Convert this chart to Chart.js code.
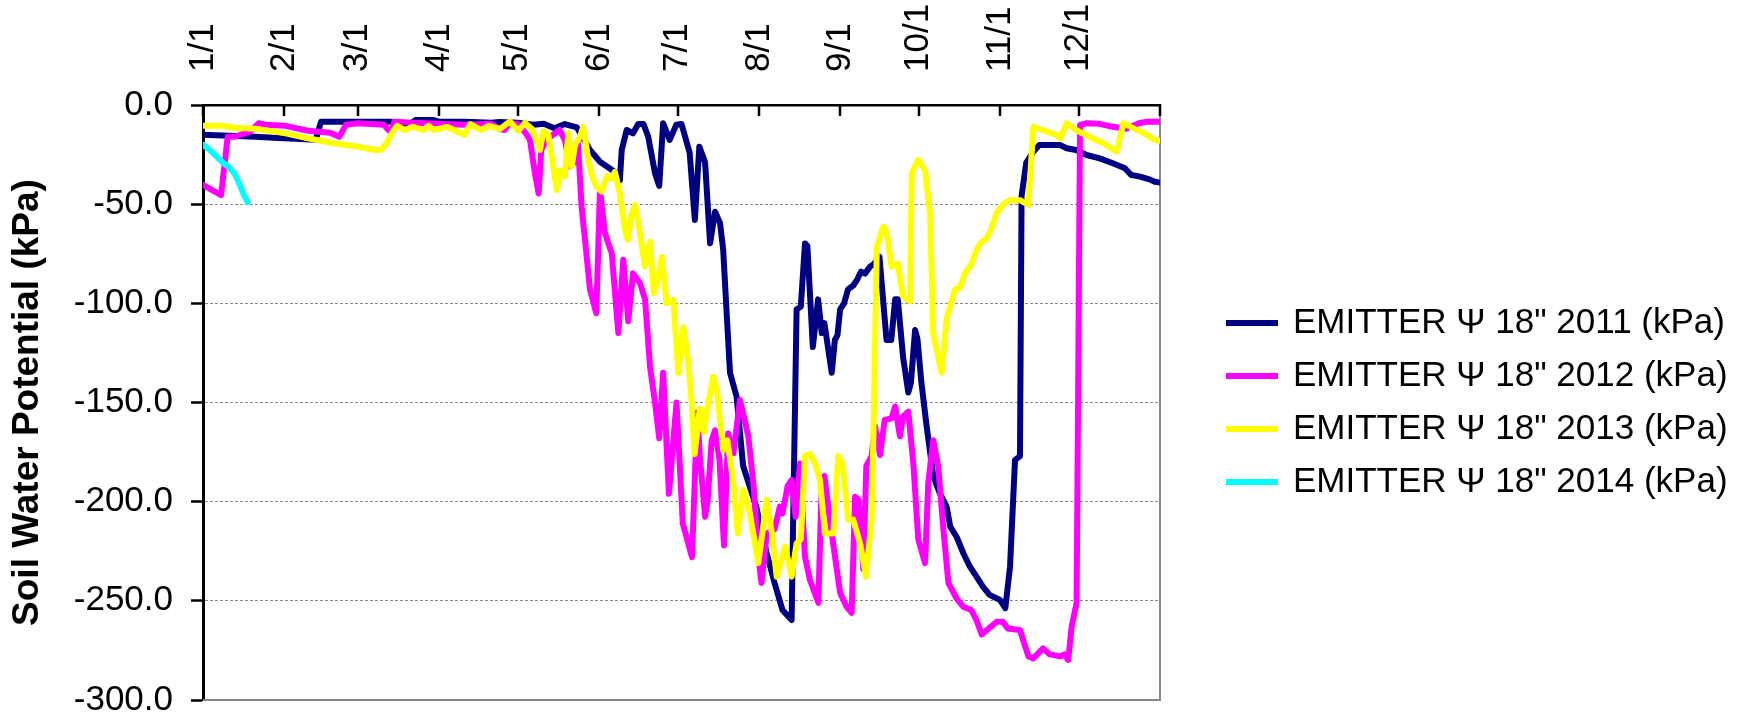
<!DOCTYPE html>
<html>
<head>
<meta charset="utf-8">
<script src="https://cdn.jsdelivr.net/npm/chart.js@4.4.1/dist/chart.umd.min.js"></script>
<style>
html,body{margin:0;padding:0;background:#fff;}
#wrap{width:1739px;height:715px;}
</style>
</head>
<body>
<div id="wrap"><canvas id="c" width="1739" height="715"></canvas></div>
<script>
// ---- axis ticks ----
const monthStartDays = [0,31,59,90,120,151,181,212,243,273,304,334];
const monthLabels = ['1/1','2/1','3/1','4/1','5/1','6/1','7/1','8/1','9/1','10/1','11/1','12/1'];
const yTickValues = [0,-50,-100,-150,-200,-250,-300];
const yTickLabels = ['0.0','-50.0','-100.0','-150.0','-200.0','-250.0','-300.0'];

// ---- series (day of year, kPa) ----
const days2011 = [0,10,20,27,35,43,45,60,72,74,79,81,88,90,100,110,113,120,126,130,134,138,142.6,147.6,151.4,157.8,159,159.7,161.6,164,166,168,169.8,172.4,174,175.5,178,180.5,182.5,185.6,187.6,189.3,191.5,193.4,195.3,197.2,198.4,199.8,201,203.5,206,211,215,218,221,224.5,225,226.4,228,229.6,230.5,232.6,234.6,236,237,239.8,241,242,243,244.5,246,248,249.5,251,252.5,254.4,256,258,260.7,262.5,264,265,267,269,270,271.6,272.5,274,276,278.5,281,283.6,285,287.4,290,292.5,295,297.5,300,304,306,307.8,309.7,311.6,312.2,314,316.7,319,327,329.4,333,337,342,347,351.6,354,357,361,363,364.5];
const psi2011 = [-15,-15.5,-16,-16.5,-17,-17.5,-8.5,-8.5,-8.5,-9.5,-9.5,-7.6,-7.6,-8.4,-8.4,-9,-8.6,-9,-10,-9.5,-11.7,-9.6,-11.3,-22.7,-28.6,-34.4,-38,-22.7,-12.6,-14.3,-9.6,-9.6,-16,-34.4,-40.8,-9.2,-17.6,-10,-9.6,-24,-58,-21,-29,-69.7,-53.8,-59.6,-73,-106.7,-135,-147,-182,-202.5,-226,-241,-254.6,-259.7,-216,-103,-101.7,-69.8,-71,-122,-98,-115,-110,-135,-118.5,-116,-103,-100,-93,-91,-88,-84,-85,-81.5,-80,-76.5,-118.5,-118.5,-98,-98,-127,-145,-140,-113.5,-118,-140,-162,-187,-195.7,-202.5,-212.6,-217.7,-226,-232.8,-237.8,-243,-247,-249.6,-253.7,-232.8,-179,-177,-46,-29,-23.5,-20.2,-20.2,-21.8,-22.7,-25.2,-26.9,-29.4,-31.9,-35.3,-36,-37.5,-38.7,-39];

const days2012 = [0,3,6.9,9.4,12,18,21.3,24,31.5,40,48.5,52,54.5,59,69,70.7,72,73,80,90,100,110,113,115,117,120,123,124.7,126.6,128,129,131,133.5,136,138,140,141.5,143,144.4,145.7,147.6,150,151.4,153.3,155.9,158.4,160.3,162.2,164,166.7,168.6,170.5,172.4,174,175.5,177.7,180.6,183,186.5,188.5,189.5,191.5,192.5,194,195.3,197,198.7,200.3,202.3,204.8,208,210,211.8,213,215,218,220,221,223,224.5,226,227.7,229.6,231.5,234.7,236,237,239.8,243,245.5,247.4,248.7,250,251.8,253,255,256.3,258.2,260,262.6,264,265.8,267,269,271,272.8,275.4,276.6,278.5,280.4,282.3,284.3,287.4,290,293,295,297,299,302.7,305,307,311.6,314.8,316.7,320.4,323,327,328.5,330,331.3,333.2,334.5,337,342,347,352,357,360,364.5];
const psi2012 = [-40.3,-42.5,-45.4,-16,-16,-13.4,-9.2,-10,-10.5,-13,-14,-16,-10,-9.2,-10,-12.6,-13,-8.4,-9,-9.5,-10,-9.5,-12,-12.6,-9,-9.6,-14,-17.6,-34.4,-44.6,-22.7,-17.6,-15,-12.6,-17.6,-31,-29,-19.3,-51.3,-68,-93,-105,-42.9,-64.7,-74.8,-115,-78,-109,-84.9,-89.9,-98,-132,-150,-168,-135,-196,-150,-211,-228,-155,-177,-207.6,-199,-169,-164,-179,-222,-165.6,-175.6,-148.7,-167,-192,-227.7,-241,-216,-214,-202.5,-206,-192,-189,-207.6,-180.7,-227.7,-239.5,-251,-189,-187,-216,-246,-253,-256,-197.5,-199,-234,-182,-177,-162,-176.5,-158.8,-158,-152,-167,-157,-154.6,-182,-219,-231,-190.7,-169,-182,-212.6,-241,-248.7,-253,-254.6,-259.7,-267,-264.7,-260.5,-260.5,-264,-264.7,-278,-279,-274,-277,-278,-277,-279.8,-263,-251,-10,-9.2,-9.5,-11,-12,-9.2,-8.4,-8.4];

const days2013 = [0,8,12,20,31.5,40,50,59,65.6,68,70,72.4,74,77,80,84,86,88,93,99.7,102,106,109,113.3,117,120.3,122.8,125.4,128.5,129.8,131.7,133.6,135,136,138,139.3,140.6,141.9,143.8,145,147,148.2,150,152,154,155.9,157.1,159,161,162,163.5,164.8,166.7,168.6,170.5,172,173.7,175,176.8,179.4,181.3,183.2,185,186.4,187.5,189.5,191,192.5,194.6,196,198.4,200,202.3,204,206,208.6,211.8,215,217,218.8,222,224.5,226.4,228,229.6,231.5,233.5,235.3,237.2,240.4,242.3,244,246,248,250.6,252.9,253.8,255,255.6,257,259.5,260.8,262.6,265,267,269.7,270.3,272.8,275.4,277.3,278.5,281.7,283.6,286.8,288.7,290.6,293,295,297,298.8,300.8,302.7,305,307.8,311.6,314.8,316.7,320,325.5,327,329.4,333,338,343.4,348.5,351,355,359,363,364.5];
const psi2013 = [-10.5,-10.5,-11.5,-12,-14.3,-16.8,-19.3,-21,-22.7,-22.5,-19.3,-13.4,-10.5,-12.6,-11,-12.6,-10.5,-12.6,-11,-15,-9.6,-12.6,-10.5,-12,-8.4,-13,-9,-12,-22.7,-13.4,-15,-31,-42.9,-33,-36,-14.3,-31,-20,-16,-11,-27.7,-35,-41,-43.7,-36,-37,-33.7,-44.6,-63,-68,-54.6,-50.4,-64.7,-81.5,-69,-95,-86.6,-76.5,-100,-98.3,-135,-112,-128.6,-150,-176,-153,-165,-152,-137,-143.5,-174,-169,-190.7,-216,-194,-206,-231,-199,-216,-237.8,-222.7,-237.8,-221,-219,-177,-176,-181,-189,-216,-216,-177,-181,-209,-209,-221,-237.8,-225,-209,-174,-71.4,-61.4,-64,-81.5,-80,-96.6,-99,-34.4,-27.7,-32.8,-54.6,-115,-135,-108,-93,-92,-84.9,-80.6,-73,-69,-67.6,-62,-54.6,-50.4,-47.9,-48,-50.4,-11,-12.6,-15,-17,-9.2,-12.6,-16,-19.3,-23.5,-9.2,-11.8,-14.3,-17.6,-18];

const days2014 = [0,2,4,6,8,10,12,14,15.5,17];
const psi2014 = [-20,-22,-24.4,-27,-29.5,-31.5,-34.5,-40,-45,-49];

const seriesNames = ['EMITTER \u03A8 18" 2011 (kPa)','EMITTER \u03A8 18" 2012 (kPa)','EMITTER \u03A8 18" 2013 (kPa)','EMITTER \u03A8 18" 2014 (kPa)'];
const seriesColors = ['#000080','#FF00FF','#FFFF00','#00FFFF'];

// ---- layout constants ----
const PLOT_LEFT = 203, PLOT_TOP = 105, PLOT_RIGHT = 1160, BOTTOM_MARGIN = 15;
const LEGEND_ITEM_X = 1228.5;
const FONT = "'Liberation Sans', Arial, Helvetica, sans-serif";
const X_FONT_SIZE = 35;

function toPoints(d, v) { return d.map((x, i) => ({x: x, y: v[i]})); }

const allDays = [days2011, days2012, days2013, days2014];
const allPsi = [psi2011, psi2012, psi2013, psi2014];

const datasets = seriesNames.map((name, i) => ({
  label: name,
  data: toPoints(allDays[i], allPsi[i]),
  borderColor: seriesColors[i],
  backgroundColor: seriesColors[i],
  borderWidth: 6,
  pointRadius: 0,
  pointHoverRadius: 0,
  tension: 0,
  fill: false,
  borderJoinStyle: 'round',
  borderCapStyle: 'round',
  order: seriesNames.length - i
}));

const framePlugin = {
  id: 'frame',
  beforeLayout(chart) {
    const lg = chart.legend;
    if (lg && !lg.__fixed) {
      const orig = lg.fit;
      lg.fit = function () { orig.call(this); this.width = chart.width - PLOT_RIGHT; };
      lg.__fixed = true;
    }
  },
  afterLayout(chart) {
    const lg = chart.legend;
    if (lg) {
      const dx = LEGEND_ITEM_X - (lg.left + lg.options.labels.padding);
      lg.left += dx; lg.right += dx;
      lg.top = chart.chartArea.top;
      lg.bottom = chart.chartArea.bottom;
      lg.height = lg.bottom - lg.top;
    }
  },
  beforeDatasetsDraw(chart) {
    const ca = chart.chartArea, ctx = chart.ctx;
    ctx.save();
    ctx.strokeStyle = '#878787';
    ctx.lineWidth = 2;
    ctx.beginPath();
    ctx.moveTo(ca.right, ca.top);
    ctx.lineTo(ca.right, ca.bottom);
    ctx.lineTo(ca.left, ca.bottom);
    ctx.stroke();
    ctx.restore();
  },
  afterDatasetsDraw(chart) {
    const xs = chart.scales.x, ca = chart.chartArea, ctx = chart.ctx;
    ctx.save();
    ctx.strokeStyle = '#000';
    ctx.lineWidth = 2.5;
    ctx.beginPath();
    xs.ticks.forEach(t => {
      const px = Math.round(xs.getPixelForValue(t.value));
      ctx.moveTo(px, ca.top); ctx.lineTo(px, ca.top + 11);
    });
    ctx.moveTo(ca.right, ca.top - 1); ctx.lineTo(ca.right, ca.top + 11);
    ctx.stroke();
    ctx.restore();
  }
};

new Chart(document.getElementById('c'), {
  type: 'line',
  data: { datasets: datasets },
  options: {
    responsive: false,
    animation: false,
    devicePixelRatio: 1,
    layout: { padding: { top: 0, left: 0, right: 0, bottom: BOTTOM_MARGIN } },
    plugins: {
      tooltip: { enabled: false },
      title: { display: false },
      legend: {
        position: 'right',
        align: 'center',
        labels: {
          color: '#000',
          font: { family: FONT, size: 35 },
          boxWidth: 47,
          boxHeight: 1,
          padding: 18,
          sort: (a, b) => a.datasetIndex - b.datasetIndex,
          generateLabels(chart) {
            const items = Chart.defaults.plugins.legend.labels.generateLabels(chart);
            items.forEach(it => { it.lineWidth = 5; it.fillStyle = it.strokeStyle; it.lineJoin = 'miter'; });
            return items;
          }
        }
      }
    },
    scales: {
      x: {
        type: 'linear',
        position: 'top',
        min: 0,
        max: 365,
        afterBuildTicks(scale) { scale.ticks = monthStartDays.map(v => ({ value: v })); },
        afterFit(scale) { scale.height = PLOT_TOP; scale.paddingLeft = 0; scale.paddingRight = 0; },
        grid: { display: false, drawTicks: false },
        border: { display: true, color: '#000', width: 2.5 },
        ticks: {
          autoSkip: false,
          minRotation: 90,
          maxRotation: 90,
          padding: 33,
          labelOffset: X_FONT_SIZE * 1.2,
          color: '#000',
          font: { family: FONT, size: X_FONT_SIZE, lineHeight: 1.2 },
          callback: (v) => { const i = monthStartDays.indexOf(v); return i >= 0 ? monthLabels[i] : ''; }
        }
      },
      y: {
        type: 'linear',
        position: 'left',
        min: -300,
        max: 0,
        afterBuildTicks(scale) { scale.ticks = yTickValues.map(v => ({ value: v })); },
        afterFit(scale) { scale.width = PLOT_LEFT; scale.paddingTop = 0; scale.paddingBottom = 0; },
        grid: {
          display: true,
          color: '#8a8a8a',
          lineWidth: 1,
          drawTicks: true,
          tickLength: 12,
          tickColor: '#000',
          tickWidth: 2.5,
          tickBorderDash: []
        },
        border: { display: true, color: '#000', width: 3, dash: [3, 2] },
        ticks: {
          padding: 18,
          color: '#000',
          font: { family: FONT, size: 35 },
          callback: (v) => { const i = yTickValues.indexOf(v); return i >= 0 ? yTickLabels[i] : ''; }
        },
        title: {
          display: true,
          text: 'Soil Water Potential (kPa)',
          color: '#000',
          font: { family: FONT, size: 37, weight: 'bold' },
          padding: { top: 6, bottom: 0 }
        }
      }
    }
  },
  plugins: [framePlugin]
});
</script>
</body>
</html>
